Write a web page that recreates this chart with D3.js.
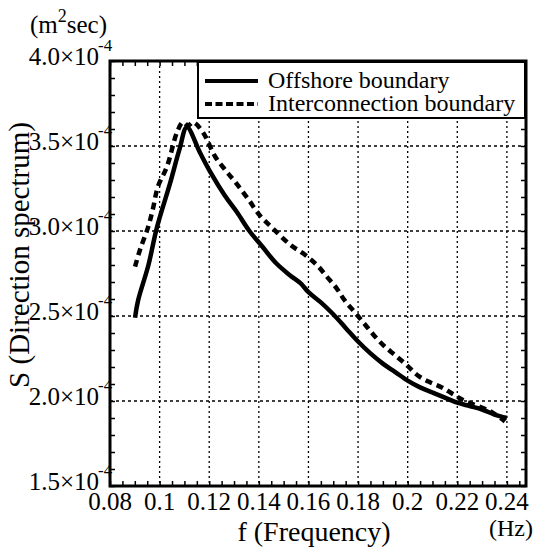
<!DOCTYPE html>
<html lang="en">
  <head>
    <meta charset="utf-8" />
    <title>Direction spectrum</title>
    <style>
      body {
        margin: 0;
        background: #fff;
      }
    </style>
  </head>
  <body>
    <div id="chart"></div>

    <script src="https://cdnjs.cloudflare.com/ajax/libs/d3/7.4.4/d3.min.js"></script>
    <script type="text/javascript">
      // Data (S in units of 1e-4 m^2 sec)
      var offshoreF = [0.0901, 0.0913, 0.0955, 0.0989, 0.1042, 0.108, 0.111, 0.1163, 0.1207, 0.1262, 0.1312, 0.1362, 0.1413, 0.147, 0.1525, 0.157, 0.16, 0.165, 0.17, 0.175, 0.18, 0.185, 0.19, 0.195, 0.2, 0.205, 0.21, 0.215, 0.22, 0.225, 0.23, 0.235, 0.24]
      var offshoreS = [2.49, 2.59, 2.8, 3.02, 3.28, 3.48, 3.61, 3.46, 3.34, 3.21, 3.11, 3.0, 2.91, 2.81, 2.74, 2.69, 2.64, 2.58, 2.51, 2.43, 2.35, 2.28, 2.22, 2.17, 2.12, 2.08, 2.05, 2.02, 1.99, 1.97, 1.95, 1.92, 1.9]

      var interF = [0.0901, 0.0921, 0.0953, 0.0973, 0.0993, 0.103, 0.107, 0.1094, 0.1115, 0.1135, 0.1175, 0.1223, 0.1264, 0.1304, 0.1356, 0.1405, 0.1453, 0.1526, 0.1586, 0.1634, 0.1675, 0.1715, 0.1747, 0.1788, 0.1828, 0.1868, 0.1908, 0.1949, 0.1997, 0.2041, 0.209, 0.2138, 0.2183, 0.2231, 0.2332, 0.2392]
      var interS = [2.79, 2.89, 3.02, 3.13, 3.26, 3.38, 3.58, 3.64, 3.62, 3.64, 3.58, 3.44, 3.36, 3.29, 3.19, 3.09, 3.02, 2.92, 2.86, 2.8, 2.73, 2.66, 2.59, 2.52, 2.45, 2.38, 2.32, 2.27, 2.21, 2.15, 2.11, 2.08, 2.04, 2.0, 1.94, 1.88]

      var xTicks = [0.08, 0.1, 0.12, 0.14, 0.16, 0.18, 0.2, 0.22, 0.24]
      var xTickLabels = ['0.08', '0.1', '0.12', '0.14', '0.16', '0.18', '0.2', '0.22', '0.24']
      var yTicks = [1.5, 2.0, 2.5, 3.0, 3.5, 4.0]
      var yTickLabels = ['1.5', '2.0', '2.5', '3.0', '3.5', '4.0']
      var seriesNames = ['Offshore boundary', 'Interconnection boundary']

      var FONT = "'Liberation Serif', 'Times New Roman', 'DejaVu Serif', serif"

      var W = 533,
        H = 547
      var margin = { top: 61, right: 7, bottom: 61, left: 110 }
      var width = W - margin.left - margin.right,
        height = H - margin.top - margin.bottom

      var svg = d3
        .select('#chart')
        .append('svg')
        .attr('width', W)
        .attr('height', H)
        .attr('font-family', FONT)
        .style('font-family', FONT)
      var g = svg.append('g').attr('transform', 'translate(' + margin.left + ',' + margin.top + ')')

      var x = d3.scaleLinear().domain([0.08, 0.2477]).range([0, width])
      var y = d3.scaleLinear().domain([1.5, 4.0]).range([height, 0])

      // grid (dotted)
      g.append('g')
        .selectAll('line')
        .data(xTicks.slice(1))
        .enter()
        .append('line')
        .attr('x1', (d) => x(d))
        .attr('x2', (d) => x(d))
        .attr('y1', 0)
        .attr('y2', height)
        .attr('stroke', '#000')
        .attr('stroke-width', 1.3)
        .attr('stroke-dasharray', '2,3')
      g.append('g')
        .selectAll('line')
        .data(yTicks.slice(1, -1))
        .enter()
        .append('line')
        .attr('x1', 0)
        .attr('x2', width)
        .attr('y1', (d) => y(d))
        .attr('y2', (d) => y(d))
        .attr('stroke', '#000')
        .attr('stroke-width', 1.3)
        .attr('stroke-dasharray', '3,3')

      // inward ticks on all four sides
      var tickLen = 5
      var xMinor = d3.range(0.08, 0.2476, 0.005)
      var yMinor = d3.range(1.5, 4.001, 0.1)
      g.append('g').call(d3.axisBottom(x).tickValues(xMinor).tickSize(-tickLen).tickFormat(''))
        .attr('transform', 'translate(0,' + height + ')')
      g.append('g').call(d3.axisTop(x).tickValues(xMinor).tickSize(-tickLen).tickFormat(''))
      g.append('g').call(d3.axisLeft(y).tickValues(yMinor).tickSize(-tickLen).tickFormat(''))
      g.append('g').call(d3.axisRight(y).tickValues(yMinor).tickSize(-tickLen).tickFormat(''))
        .attr('transform', 'translate(' + width + ',0)')
      g.selectAll('.domain').remove()
      g.selectAll('.tick line').attr('stroke', '#000').attr('stroke-width', 1.5)

      // frame
      g.append('rect')
        .attr('x', 0)
        .attr('y', 0)
        .attr('width', width)
        .attr('height', height)
        .attr('fill', 'none')
        .attr('stroke', '#000')
        .attr('stroke-width', 3)

      // x tick labels
      g.append('g')
        .selectAll('text')
        .data(xTicks)
        .enter()
        .append('text')
        .attr('x', (d) => x(d))
        .attr('y', height + 24)
        .attr('text-anchor', 'middle')
        .attr('font-size', 25)
        .text((d, i) => xTickLabels[i])

      // y tick labels with superscript exponent
      var yl = g.append('g').selectAll('g').data(yTicks).enter().append('g')
      yl.append('text')
        .attr('x', -11)
        .attr('y', (d) => y(d) + 4)
        .attr('text-anchor', 'end')
        .attr('font-size', 25)
        .text((d, i) => yTickLabels[i] + '\u00d710')
      yl.append('text')
        .attr('x', -12)
        .attr('y', (d) => y(d) - 10)
        .attr('font-size', 17)
        .text('-4')

      // axis titles
      svg.append('text')
        .attr('x', 314)
        .attr('y', 541)
        .attr('text-anchor', 'middle')
        .attr('font-size', 28)
        .text('f (Frequency)')
      svg.append('text')
        .attr('x', 533)
        .attr('y', 536)
        .attr('text-anchor', 'end')
        .attr('font-size', 24)
        .text('(Hz)')
      svg.append('text')
        .attr('transform', 'translate(29,255) rotate(-90)')
        .attr('text-anchor', 'middle')
        .attr('font-size', 29)
        .text('S (Direction spectrum)')
      var unit = svg.append('text').attr('x', 30).attr('y', 33).attr('font-size', 25)
      unit.append('tspan').text('(m')
      unit.append('tspan').attr('dy', -11).attr('font-size', 18).text('2')
      unit.append('tspan').attr('dy', 11).text('sec)')

      // curves
      var line = d3
        .line()
        .x((d) => x(d[0]))
        .y((d) => y(d[1]))
        .curve(d3.curveCatmullRom)

      var offshore = offshoreF.map((f, i) => [f, offshoreS[i]])
      var inter = interF.map((f, i) => [f, interS[i]])

      g.append('path')
        .datum(inter)
        .attr('d', line)
        .attr('fill', 'none')
        .attr('stroke', '#000')
        .attr('stroke-width', 4.5)
        .attr('stroke-dasharray', '7,5')
      g.append('path')
        .datum(offshore)
        .attr('d', line)
        .attr('fill', 'none')
        .attr('stroke', '#000')
        .attr('stroke-width', 4.5)

      // legend
      var lg = svg.append('g').attr('transform', 'translate(198,62)')
      lg.append('rect')
        .attr('width', 327)
        .attr('height', 56)
        .attr('fill', '#fff')
        .attr('stroke', '#000')
        .attr('stroke-width', 2)
      var items = lg.selectAll('g').data(seriesNames).enter().append('g')
        .attr('transform', (d, i) => 'translate(0,' + (19 + i * 23) + ')')
      items.append('line')
        .attr('x1', 7)
        .attr('x2', 60)
        .attr('stroke', '#000')
        .attr('stroke-width', 4)
        .attr('stroke-dasharray', (d, i) => (i ? '7,3.5' : null))
      items.append('text')
        .attr('x', 70)
        .attr('y', 7)
        .attr('font-size', 24)
        .text((d) => d)
    </script>
  </body>
</html>
